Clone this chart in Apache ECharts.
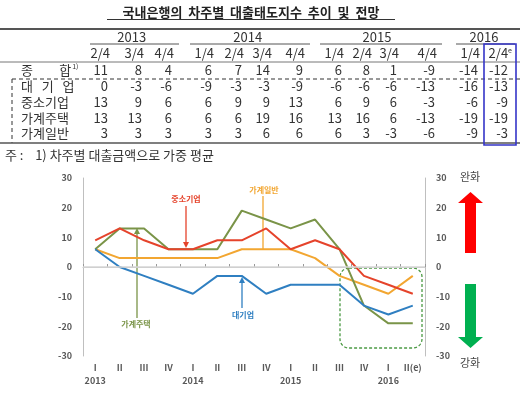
<!DOCTYPE html>
<html>
<head>
<meta charset="utf-8">
<script src="https://cdn.jsdelivr.net/npm/echarts@6/dist/echarts.min.js"></script>
<style>
  html, body { margin: 0; padding: 0; background: #fff; }
  #chart { width: 520px; height: 413px; }
</style>
</head>
<body>
<div id="chart"></div>
<script>
// 차트 데이터 (2013 I ~ 2016 II(e))
const quarterLabels = ['I', 'II', 'III', 'IV', 'I', 'II', 'III', 'IV', 'I', 'II', 'III', 'IV', 'I', 'II(e)'];
const yearLabels = ['2013', '', '', '', '2014', '', '', '', '2015', '', '', '', '2016', ''];
const largeFirms = [6, 0, -3, -6, -9, -3, -3, -9, -6, -6, -6, -13, -16, -13];
const smeFirms = [9, 13, 9, 6, 6, 9, 9, 13, 6, 9, 6, -3, -6, -9];
const householdHousing = [6, 13, 13, 6, 6, 6, 19, 16, 13, 16, 6, -13, -19, -19];
const householdGeneral = [6, 3, 3, 3, 3, 3, 6, 6, 6, 3, -3, -6, -9, -3];

// 표 데이터 (2013 2/4 ~ 2016 2/4)
const tableYears = ['2013', '2014', '2015', '2016'];
const tableYearSpans = [3, 4, 4, 2];
const tableQuarters = ['2/4', '3/4', '4/4', '1/4', '2/4', '3/4', '4/4', '1/4', '2/4', '3/4', '4/4', '1/4', '2/4'];
const composite = [11, 8, 4, 6, 7, 14, 9, 6, 8, 1, -9, -14, -12];
const tableRowLabels = ['대   기   업', '중소기업', '가계주택', '가계일반'];

const FONT = '"Noto Sans CJK KR", "Noto Sans", sans-serif';
const colors = { large: '#2f7fc1', sme: '#e5432b', housing: '#7a9448', general: '#f2a631' };

const chart = echarts.init(document.getElementById('chart'));

// 표 레이아웃
const colRight = [108, 142, 172, 212, 242, 270, 303, 342, 370, 397, 435, 478, 508];
const rowY = [86.5, 102, 118, 133.5];
const g = [];

function txt(x, y, text, opt) {
  g.push({
    type: 'text', x: x, y: y, silent: true,
    style: Object.assign({
      text: text, font: '13px ' + FONT, fill: '#333',
      align: 'left', verticalAlign: 'middle'
    }, opt || {})
  });
}
function line(x1, y1, x2, y2, style) {
  g.push({ type: 'line', silent: true, shape: { x1: x1, y1: y1, x2: x2, y2: y2 }, style: style });
}

// 제목
txt(251, 12, '국내은행의  차주별  대출태도지수  추이  및  전망',
  { align: 'center', font: 'bold 13px ' + FONT, fill: '#222' });
line(107, 19.5, 395, 19.5, { stroke: '#333', lineWidth: 1 });

// 표 가로선
line(0, 29, 520, 29, { stroke: '#555', lineWidth: 2 });
line(0, 62, 520, 62, { stroke: '#777', lineWidth: 1 });
line(12, 79, 520, 79, { stroke: '#333', lineWidth: 1, lineDash: [4, 3] });
line(12, 79, 12, 143, { stroke: '#333', lineWidth: 1, lineDash: [4, 3] });
line(0, 143, 520, 143, { stroke: '#555', lineWidth: 1.5 });

// 연도 머리글
let c0 = 0;
tableYears.forEach(function (yr, i) {
  const c1 = c0 + tableYearSpans[i] - 1;
  const left = colRight[c0] - 22 + (i === 0 ? 4 : 0);
  const right = Math.min(colRight[c1] + 7, 518);
  let center = 0;
  for (let c = c0; c <= c1; c++) center += colRight[c] - 9;
  center /= tableYearSpans[i];
  txt(center, 37, yr, { align: 'center' });
  line(left, 44, right, 44, { stroke: '#555', lineWidth: 1 });
  c0 = c1 + 1;
});

// 분기 머리글
tableQuarters.forEach(function (q, i) {
  if (i === tableQuarters.length - 1) {
    txt(colRight[i] + 4, 53, '{a|' + q + '}{e|e}', {
      align: 'right',
      rich: { a: { font: '13px ' + FONT, fill: '#333' }, e: { font: '7px ' + FONT, fill: '#333', verticalAlign: 'top', padding: [0, 0, 6, 0] } }
    });
  } else {
    txt(colRight[i] + 2, 53, q, { align: 'right' });
  }
});

// 종합
txt(21, 70, '{a|종         합}{s|1)}', {
  rich: { a: { font: '13px ' + FONT, fill: '#333' }, s: { font: '7px ' + FONT, fill: '#333', padding: [0, 0, 8, 1] } }
});
composite.forEach(function (v, i) { txt(colRight[i], 70, String(v), { align: 'right' }); });

// 차주별 행
[largeFirms, smeFirms, householdHousing, householdGeneral].forEach(function (arr, r) {
  txt(21, rowY[r], tableRowLabels[r]);
  arr.slice(1).forEach(function (v, i) { txt(colRight[i], rowY[r], String(v), { align: 'right' }); });
});

// 2016 2/4 전망 박스
g.push({ type: 'rect', silent: true, shape: { x: 484, y: 44, width: 32, height: 101 },
  style: { fill: 'none', stroke: '#3535c8', lineWidth: 1.6 } });

// 주석
txt(5, 155, '주 :    1) 차주별 대출금액으로 가중 평균');

// 차트 주석 (화살표)
function arrowHead(x, y, dir, color) {
  const d = dir === 'down' ? -1 : 1;
  g.push({ type: 'polygon', silent: true,
    shape: { points: [[x, y], [x - 3, y + 6 * d], [x + 3, y + 6 * d]] },
    style: { fill: color } });
}
txt(186, 199, '중소기업', { align: 'center', font: 'bold 8px ' + FONT, fill: colors.sme });
line(186, 206, 186, 246, { stroke: colors.sme, lineWidth: 1.3 });
arrowHead(186, 248, 'down', colors.sme);

txt(264, 190, '가계일반', { align: 'center', font: 'bold 8px ' + FONT, fill: colors.general });
line(263, 196, 263, 250, { stroke: colors.general, lineWidth: 1.3 });

txt(136, 324, '가계주택', { align: 'center', font: 'bold 8px ' + FONT, fill: colors.housing });
line(137, 318, 137, 232, { stroke: colors.housing, lineWidth: 1.3 });
arrowHead(137, 228, 'up', colors.housing);

txt(243, 315, '대기업', { align: 'center', font: 'bold 8px ' + FONT, fill: colors.large });
line(242, 308, 242, 281, { stroke: colors.large, lineWidth: 1.3 });
arrowHead(242, 277, 'up', colors.large);

// 전망 구간 점선 박스
g.push({ type: 'rect', silent: true, shape: { x: 340, y: 268, width: 82, height: 80, r: 9 },
  style: { fill: 'none', stroke: '#4c9a44', lineWidth: 1.3, lineDash: [3, 2] } });

// 완화 / 강화 화살표
txt(470, 177, '완화', { align: 'center', font: '11px ' + FONT, fill: '#444' });
txt(470, 363, '강화', { align: 'center', font: '11px ' + FONT, fill: '#444' });
g.push({ type: 'polygon', silent: true,
  shape: { points: [[465, 253], [465, 203], [458, 203], [470.5, 192], [483, 203], [476, 203], [476, 253]] },
  style: { fill: '#ff0000' } });
g.push({ type: 'polygon', silent: true,
  shape: { points: [[465, 284], [465, 337], [458, 337], [470.5, 348], [483, 337], [476, 337], [476, 284]] },
  style: { fill: '#00b050' } });

const yAxisBase = {
  type: 'value', min: -30, max: 30, interval: 10,
  splitLine: { show: false },
  axisTick: { show: false },
  axisLine: { show: true, lineStyle: { color: '#bfbfbf', width: 1 } },
  axisLabel: { color: '#595959', fontSize: 9, fontWeight: 'bold', fontFamily: FONT, margin: 11 }
};

function lineSeries(name, data, color) {
  return {
    name: name, type: 'line', data: data, symbol: 'none',
    lineStyle: { color: color, width: 2 }, itemStyle: { color: color },
    animation: false
  };
}

const series = [
  lineSeries('가계일반', householdGeneral, colors.general),
  lineSeries('가계주택', householdHousing, colors.housing),
  lineSeries('중소기업', smeFirms, colors.sme),
  lineSeries('대기업', largeFirms, colors.large)
];
series[0].markLine = {
  silent: true, symbol: 'none', label: { show: false },
  lineStyle: { color: '#d6d6d6', width: 1.5, type: 'solid' },
  data: [{ yAxis: 0 }]
};

chart.setOption({
  animation: false,
  grid: { left: 83, right: 95, top: 178, bottom: 57 },
  xAxis: {
    type: 'category', data: quarterLabels, boundaryGap: true,
    axisLine: { show: true, lineStyle: { color: '#bfbfbf' } },
    axisTick: { show: true, inside: true, length: 3, lineStyle: { color: '#999' } },
    axisLabel: {
      interval: 0, color: '#595959', fontSize: 9, fontWeight: 'bold', fontFamily: FONT,
      margin: 5, lineHeight: 13,
      formatter: function (v, i) { return v + '\n' + yearLabels[i]; }
    }
  },
  yAxis: [
    Object.assign({}, yAxisBase, { position: 'left' }),
    Object.assign({}, yAxisBase, { position: 'right' })
  ],
  series: series,
  graphic: g
});
</script>
</body>
</html>
